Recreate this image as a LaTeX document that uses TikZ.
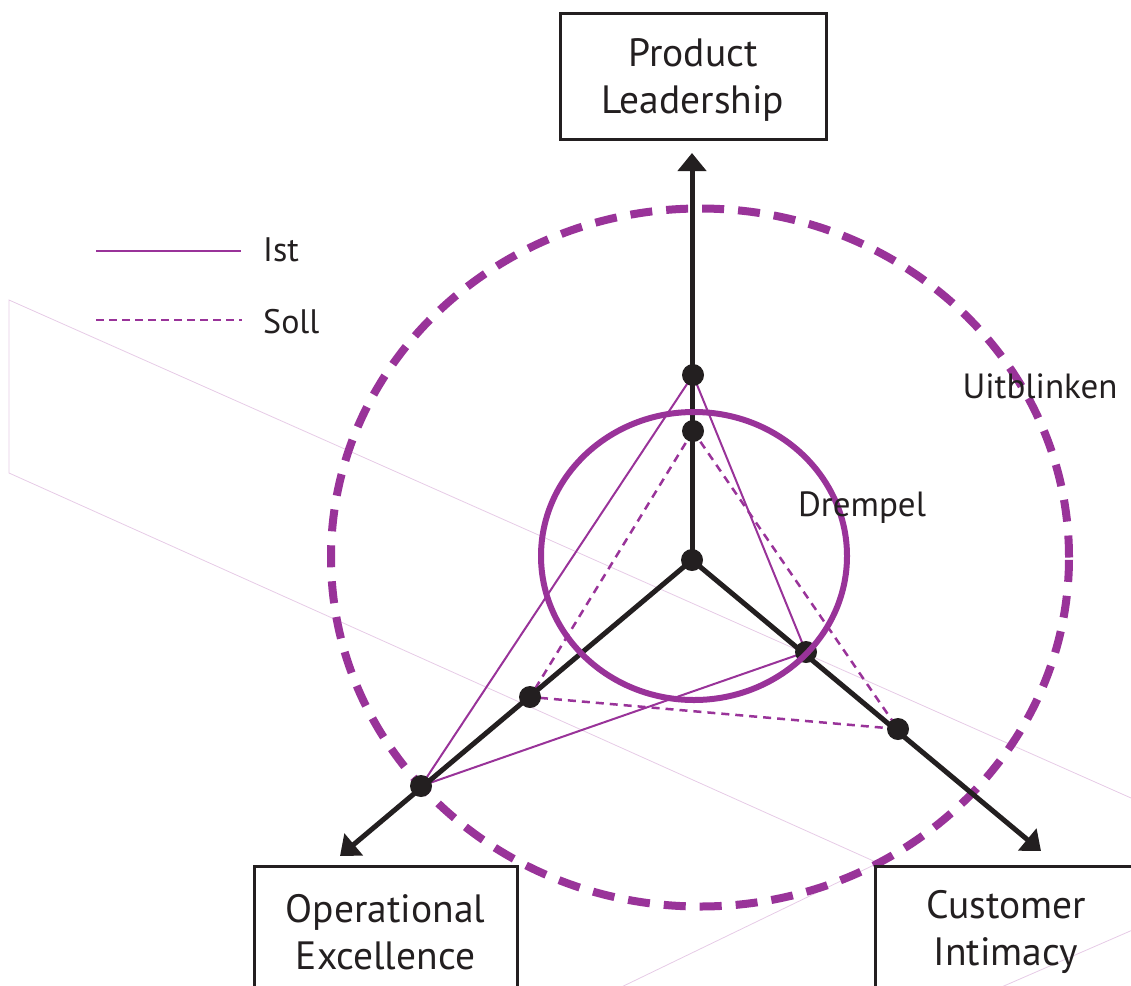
\documentclass[tikz,border=0pt]{standalone}
\usepackage{fontspec}
\setmainfont{PT Sans}
\usetikzlibrary{arrows.meta}
\definecolor{ink}{HTML}{231F20}
\definecolor{plum}{HTML}{993399}
\definecolor{haze}{HTML}{E6CBE6}
\begin{document}
\begin{tikzpicture}[x=1pt,y=-1pt,
  axis/.style={line width=5pt, draw=ink, -{Triangle[length=18pt,width=28pt]}},
  dot/.style={circle, fill=ink, inner sep=0pt, minimum size=22pt},
  ist/.style={draw=plum, line width=2pt},
  soll/.style={draw=plum, line width=2.5pt, dash pattern=on 8pt off 6pt},
  label/.style={font=\fontsize{35}{40}\selectfont, text=ink, inner sep=0pt},
  legendtext/.style={font=\fontsize{34}{40}\selectfont, text=ink, inner sep=0pt},
  frame/.style={draw=ink, line width=3pt, inner sep=0pt},
  boxtext/.style={align=center, inner sep=0pt,
    font=\fontsize{39.5}{47}\selectfont, text=ink},
  faint/.style={draw=haze, line width=0.8pt}
]
\useasboundingbox (0,0) rectangle (1131,985);
\clip (0,0) rectangle (1131,985);

% thin construction outline in the background
\coordinate (fa) at (9,300);
\coordinate (fb) at (9,473);
\coordinate (fc) at (878,863);
\coordinate (fd) at (1282,865);
\coordinate (fe) at (580,1007);
\coordinate (ff) at (990,992);
\draw[faint] (fd) -- (fa) -- (fb) -- (fc) -- (fe);
\draw[faint] (fd) -- (ff);

% outer zone: Uitblinken
\draw[plum, line width=8pt, dash pattern=on 22pt off 14pt]
  (700,557.5) ellipse [x radius=369pt, y radius=349pt];

% value points on the three axes
\coordinate (c) at (692,560);
\coordinate (tipT) at (692,153);
\coordinate (tipL) at (340,856);
\coordinate (tipR) at (1041,851);

% Ist and Soll profiles
\draw[ist] (693,375) -- (421,786) -- (806,652) -- cycle;
\draw[soll] (693,431) -- (530,697) -- (898,729) -- cycle;

% axes
\draw[axis] (c) -- (tipT);
\draw[axis] (c) -- (tipL);
\draw[axis] (c) -- (tipR);

\node[dot] (d0) at (c) {};
\node[dot] (t1) at (693,375) {};
\node[dot] (t2) at (693,431) {};
\node[dot] (l1) at (530,697) {};
\node[dot] (l2) at (421,786) {};
\node[dot] (r1) at (806,652) {};
\node[dot] (r2) at (898,729) {};

% inner zone: Drempel
\draw[plum, line width=6pt] (694,556) ellipse [x radius=153pt, y radius=144pt];

% strategy boxes
\node[frame, minimum width=266pt, minimum height=126pt] (pl) at (693,76) {};
\node[frame, minimum width=263pt, minimum height=126pt] (oe) at (385.5,929) {};
\node[frame, minimum width=262pt, minimum height=126pt] (ci) at (1006,929) {};
\node[boxtext] (plt) at ([yshift=-4pt]pl.center) {Product\\Leadership};
\node[boxtext] (oet) at ([yshift=-3pt]oe.center) {Operational\\Excellence};
\node[boxtext] (cit) at ([yshift=-3pt]ci.center) {Customer\\Intimacy};

% zone labels
\node[label] (ub) at (1040,386) {Uitblinken};
\node[label] (dr) at (862,508) {Drempel};

% legend
\coordinate (li1) at (96,251);
\coordinate (li2) at (241,251);
\coordinate (ls1) at (96,320);
\coordinate (ls2) at (242,320);
\draw[ist] (li1) -- (li2);
\draw[soll, dash pattern=on 8pt off 5pt] (ls1) -- (ls2);
\node[legendtext, anchor=west] (lgi) at (263,250) {Ist};
\node[legendtext, anchor=west] (lgs) at (263,322) {Soll};
\end{tikzpicture}
\end{document}
